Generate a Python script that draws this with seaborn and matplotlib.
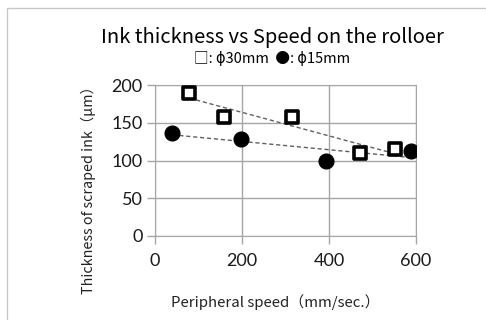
import numpy as np
import pandas as pd
import matplotlib
matplotlib.use("Agg")
import matplotlib.pyplot as plt
import seaborn as sns
from matplotlib.patches import Rectangle

# ? data
speed_30 = [79, 159, 316, 471, 551]
thick_30 = [189, 158, 157, 110, 115]
speed_15 = [40, 198, 393, 588]
thick_15 = [137, 129, 99, 113]

x_ticks = [0, 200, 400, 600]
y_ticks = [0, 50, 100, 150, 200]

df30 = pd.DataFrame({"speed": speed_30, "thick": thick_30})
df15 = pd.DataFrame({"speed": speed_15, "thick": thick_15})

sns.set_style("white")
plt.rcParams["font.family"] = ["Noto Sans CJK JP", "DejaVu Sans"]

fig = plt.figure(figsize=(4.86, 3.2), dpi=100)
ax = fig.add_axes([155 / 486, 1 - 236 / 320, 261 / 486, 151 / 320])

# * border of the chart area
fig.patches.append(Rectangle((7 / 486, -0.1), 1.1, 1 - 8 / 320 + 0.1,
                             transform=fig.transFigure, fill=False,
                             edgecolor="#c8c8c8", lw=1))

# * linear trend lines
for d in (df30, df15):
    sns.regplot(data=d, x="speed", y="thick", scatter=False, ci=None, ax=ax,
                line_kws={"ls": (0, (3, 2)), "color": "#606060", "lw": 1})

sns.scatterplot(data=df30, x="speed", y="thick", marker="s", s=80,
                facecolor="white", edgecolor="black", linewidth=2.6, ax=ax,
                zorder=5)
sns.scatterplot(data=df15, x="speed", y="thick", marker="o", s=115,
                color="black", edgecolor="black", ax=ax, zorder=5)

ax.set_xlim(0, 600)
ax.set_ylim(0, 200)
ax.set_xticks(x_ticks)
ax.set_yticks(y_ticks)
ax.grid(True, color="#a6a6a6", lw=1)
for s in ax.spines.values():
    s.set_color("#a6a6a6")
ax.tick_params(axis="both", length=6, color="#a6a6a6", width=1,
               direction="out", left=True, bottom=True, labelsize=13,
               labelcolor="#1a1a1a")
ax.tick_params(axis="x", pad=6)
ax.tick_params(axis="y", pad=3)
for lab in ax.get_xticklabels() + ax.get_yticklabels():
    lab.set_family(["Lato", "DejaVu Sans"])
ax.set_xlabel("")
ax.set_ylabel("")

fig.text(272 / 486, 1 - 37 / 320, "Ink thickness vs Speed on the rolloer",
         ha="center", va="center", fontsize=14.5, color="black")
fig.text(272 / 486, 1 - 58 / 320, "□: ϕ30mm  ●: ϕ15mm",
         ha="center", va="center", fontsize=10.5, color="black")
fig.text(88 / 486, 1 - 187 / 320, "Thickness of scraped ink（μm）",
         ha="center", va="center", rotation=90, fontsize=10.3, color="#222")
fig.text(275 / 486, 1 - 302 / 320, "Peripheral speed（mm/sec.）",
         ha="center", va="center", fontsize=10.8, color="#222")

fig.savefig("out.png", dpi=100)
